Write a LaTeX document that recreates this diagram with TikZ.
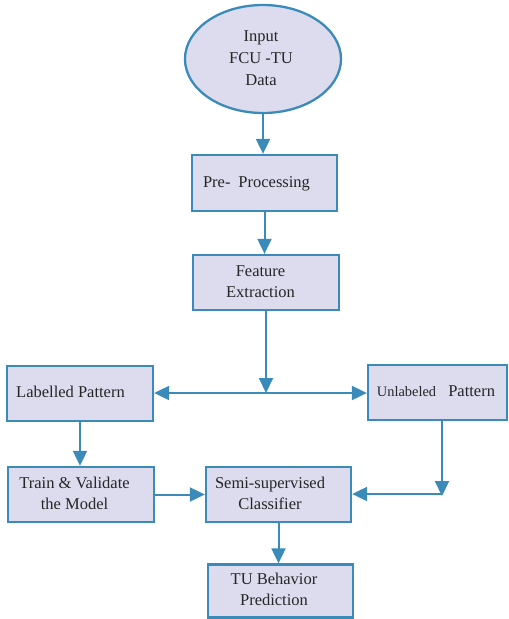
\documentclass[tikz,border=0pt]{standalone}
\usepackage{fontspec}
\setmainfont{Liberation Serif}
\usetikzlibrary{arrows.meta,shapes.geometric}
\definecolor{boxfill}{RGB}{220,220,238}
\definecolor{boxline}{RGB}{58,138,186}
\newcommand\offtext[2]{\kern#1\relax\begin{tabular}{@{}c@{}}#2\end{tabular}\kern-#1\relax}
\begin{document}
\begin{tikzpicture}[x=1pt,y=-1pt,
  every node/.style={font=\fontsize{16.5}{21}\selectfont, text=black!85},
  flowbox/.style={draw=boxline, fill=boxfill, line width=2.3pt, rectangle, inner sep=0pt},
  arr/.style={draw=boxline, line width=2pt, -{Triangle[length=15pt,width=14pt]}},
  plain/.style={draw=boxline, line width=2pt}]
\useasboundingbox (0,0) rectangle (509,619);
\node[flowbox, ellipse, minimum width=156pt, minimum height=108pt] (in) at (263,59)
  {\fontsize{16.5}{22}\selectfont\offtext{-2pt}{Input\\FCU -TU\\Data}};
\node[flowbox, minimum width=145pt, minimum height=56pt] (pre) at (264.5,183)
  {\offtext{-8pt}{Pre-\hspace{8pt}Processing}};
\node[flowbox, minimum width=146pt, minimum height=55pt] (feat) at (266,282.5)
  {\offtext{-5.5pt}{Feature\\Extraction}};
\node[flowbox, minimum width=146pt, minimum height=55pt] (lab) at (80,393.5)
  {\offtext{-9.5pt}{Labelled Pattern}};
\node[flowbox, minimum width=139pt, minimum height=55pt] (unl) at (437.5,392.5)
  {\offtext{-1.5pt}{{\fontsize{14.4}{21}\selectfont Unlabeled}\hspace{8pt} Pattern}};
\node[flowbox, minimum width=146pt, minimum height=55pt] (train) at (81,494.5)
  {\offtext{-6.5pt}{Train \& Validate\\the Model}};
\node[flowbox, minimum width=145pt, minimum height=55pt] (semi) at (278.5,494.5)
  {\offtext{-8.5pt}{Semi-supervised\\Classifier}};
\node[flowbox, minimum width=145pt, minimum height=53pt] (tu) at (280.5,591)
  {\offtext{-6.5pt}{TU Behavior\\Prediction}};
\coordinate (j) at (266,393);
\coordinate (c) at (442,494);
\draw[arr] (in.south) -- (in.south |- pre.north);
\draw[arr] (pre.south) -- (pre.south |- feat.north);
\draw[arr] (feat.south) -- (j);
\draw[arr] (j) -- (lab.east |- j);
\draw[arr] (j) -- (unl.west |- j);
\draw[arr] (lab.south) -- (lab.south |- train.north);
\draw[arr] (train.east) -- (semi.west);
\draw[arr] (unl.south -| c) -- ([yshift=-2pt]c);
\draw[arr] (c) -- (semi.east |- c);
\draw[arr] (semi.south) -- (semi.south |- tu.north);
\end{tikzpicture}
\end{document}
